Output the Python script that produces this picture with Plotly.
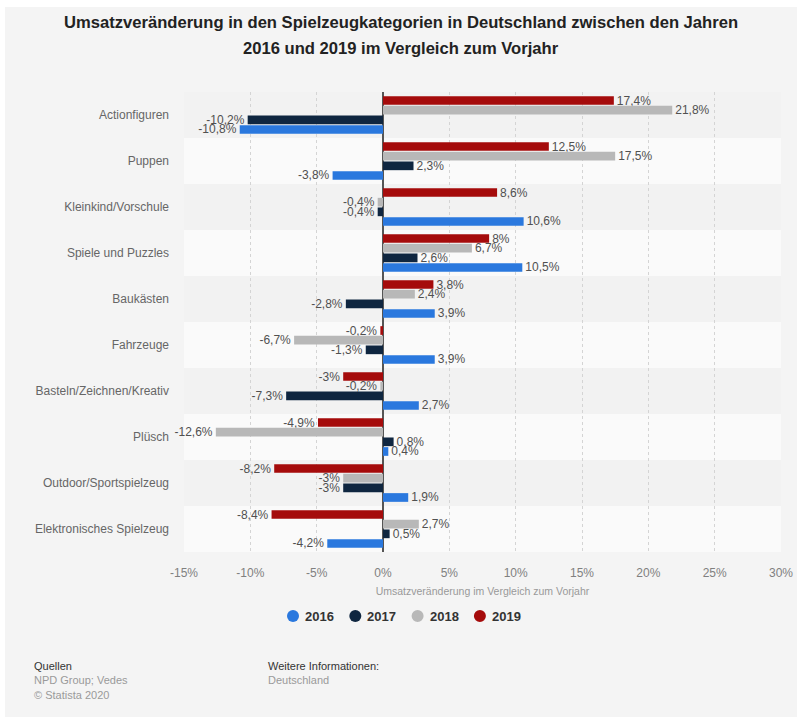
import plotly.graph_objects as go

# Toy categories, top to bottom
categories = [
    "Actionfiguren", "Puppen", "Kleinkind/Vorschule", "Spiele und Puzzles",
    "Baukästen", "Fahrzeuge", "Basteln/Zeichnen/Kreativ", "Plüsch",
    "Outdoor/Sportspielzeug", "Elektronisches Spielzeug",
]

# Sales change vs. previous year, in percent
years = ["2016", "2017", "2018", "2019"]
change_2016 = [-10.8, -3.8, 10.6, 10.5, 3.9, 3.9, 2.7, 0.4, 1.9, -4.2]
change_2017 = [-10.2, 2.3, -0.4, 2.6, -2.8, -1.3, -7.3, 0.8, -3.0, 0.5]
change_2018 = [21.8, 17.5, -0.4, 6.7, 2.4, -6.7, -0.2, -12.6, -3.0, 2.7]
change_2019 = [17.4, 12.5, 8.6, 8.0, 3.8, -0.2, -3.0, -4.9, -8.2, -8.4]

x_ticks = [-15, -10, -5, 0, 5, 10, 15, 20, 25, 30]
x_tick_labels = [f"{v}%" for v in x_ticks]

series = {
    "2016": change_2016,
    "2017": change_2017,
    "2018": change_2018,
    "2019": change_2019,
}
colors = {
    "2016": "#2a78de",
    "2017": "#0f2640",
    "2018": "#b8b8b8",
    "2019": "#a50b0b",
}

FONT = "Liberation Sans, Arial, Helvetica, sans-serif"

# plot area in pixels (for placing free annotations)
L, R, T, B = 184, 18, 92, 168
W, H = 799, 720
PW, PH = W - L - R, H - T - B


def px(x):
    return (x - L) / PW


def py(y):
    return (H - B - y) / PH


def pct(v):
    return f"{v:g}".replace(".", ",") + "%"


fig = go.Figure()

# bars: 2019 drawn first so it sits on top in each group
for yr in reversed(years):
    vals = series[yr]
    fig.add_trace(go.Bar(
        y=categories, x=vals, orientation="h", name=yr,
        marker=dict(color=colors[yr], line=dict(width=0)),
        text=[pct(v) for v in vals], textposition="outside",
        textfont=dict(family=FONT, size=12, color="#505050"),
        constraintext="none", cliponaxis=False,
        showlegend=False, hoverinfo="skip",
    ))

shapes = [
    # light grey page panel
    dict(type="rect", xref="paper", yref="paper", layer="below",
         x0=px(5), x1=px(797), y0=py(717), y1=py(7),
         fillcolor="#f4f4f4", line=dict(width=0)),
]
# alternating category bands
for i, _ in enumerate(categories):
    shapes.append(dict(
        type="rect", xref="paper", yref="y", layer="below",
        x0=0, x1=1, y0=i - 0.5, y1=i + 0.5,
        fillcolor="#f2f2f2" if i % 2 == 0 else "#fafafa",
        line=dict(width=0),
    ))

annotations = [
    dict(text="<b>Umsatzveränderung in den Spielzeugkategorien in Deutschland zwischen den Jahren</b>",
         x=px(401), y=py(22), xref="paper", yref="paper", showarrow=False,
         xanchor="center", yanchor="middle",
         font=dict(family=FONT, size=16.6, color="#222222")),
    dict(text="<b>2016 und 2019 im Vergleich zum Vorjahr</b>",
         x=px(401), y=py(48), xref="paper", yref="paper", showarrow=False,
         xanchor="center", yanchor="middle",
         font=dict(family=FONT, size=16.6, color="#222222")),
    dict(text="Quellen<br><span style='color:#9a9a9a'>NPD Group; Vedes<br>© Statista 2020</span>",
         x=px(32), y=py(658), xref="paper", yref="paper", showarrow=False,
         xanchor="left", yanchor="top", align="left",
         font=dict(family=FONT, size=11, color="#333333")),
    dict(text="Weitere Informationen:<br><span style='color:#9a9a9a'>Deutschland</span>",
         x=px(266), y=py(658), xref="paper", yref="paper", showarrow=False,
         xanchor="left", yanchor="top", align="left",
         font=dict(family=FONT, size=11, color="#333333")),
]

# legend row: round swatch + bold year label
LEG_X0, LEG_STEP, LEG_Y = 293, 62.3, 616
for k, yr in enumerate(years):
    cx = LEG_X0 + k * LEG_STEP
    shapes.append(dict(
        type="circle", xref="paper", yref="paper",
        xsizemode="pixel", ysizemode="pixel",
        xanchor=px(cx), yanchor=py(LEG_Y),
        x0=-6, x1=6, y0=-6, y1=6,
        fillcolor=colors[yr], line=dict(width=0),
    ))
    annotations.append(dict(
        text=f"<b>{yr}</b>", x=px(cx + 10), y=py(LEG_Y),
        xref="paper", yref="paper", showarrow=False,
        xanchor="left", yanchor="middle",
        font=dict(family=FONT, size=13, color="#333333"),
    ))

fig.update_layout(
    width=W, height=H,
    margin=dict(l=L, r=R, t=T, b=B, autoexpand=False),
    paper_bgcolor="#ffffff",
    plot_bgcolor="rgba(0,0,0,0)",
    separators=", ",
    barmode="group", bargap=0.16, bargroupgap=0.1,
    font=dict(family=FONT, size=12, color="#666666"),
    shapes=shapes,
    annotations=annotations,
    showlegend=False,
)

fig.update_xaxes(
    range=[-15, 30], tickmode="array", tickvals=x_ticks, ticktext=x_tick_labels,
    showgrid=True, gridcolor="#d4d4d4", griddash="dot", gridwidth=1,
    zeroline=True, zerolinecolor="#555555", zerolinewidth=1.5,
    showline=False, ticks="", ticklabelstandoff=12,
    tickfont=dict(family=FONT, size=12, color="#808080"),
    title=dict(text="Umsatzveränderung im Vergleich zum Vorjahr", standoff=8,
               font=dict(family=FONT, size=10.5, color="#999999")),
)
fig.update_yaxes(
    categoryorder="array", categoryarray=categories, autorange="reversed",
    showgrid=False, zeroline=False, showline=False, ticks="",
    ticklabelstandoff=14,
    tickfont=dict(family=FONT, size=12, color="#666666"),
)

fig.write_html("out.html")
